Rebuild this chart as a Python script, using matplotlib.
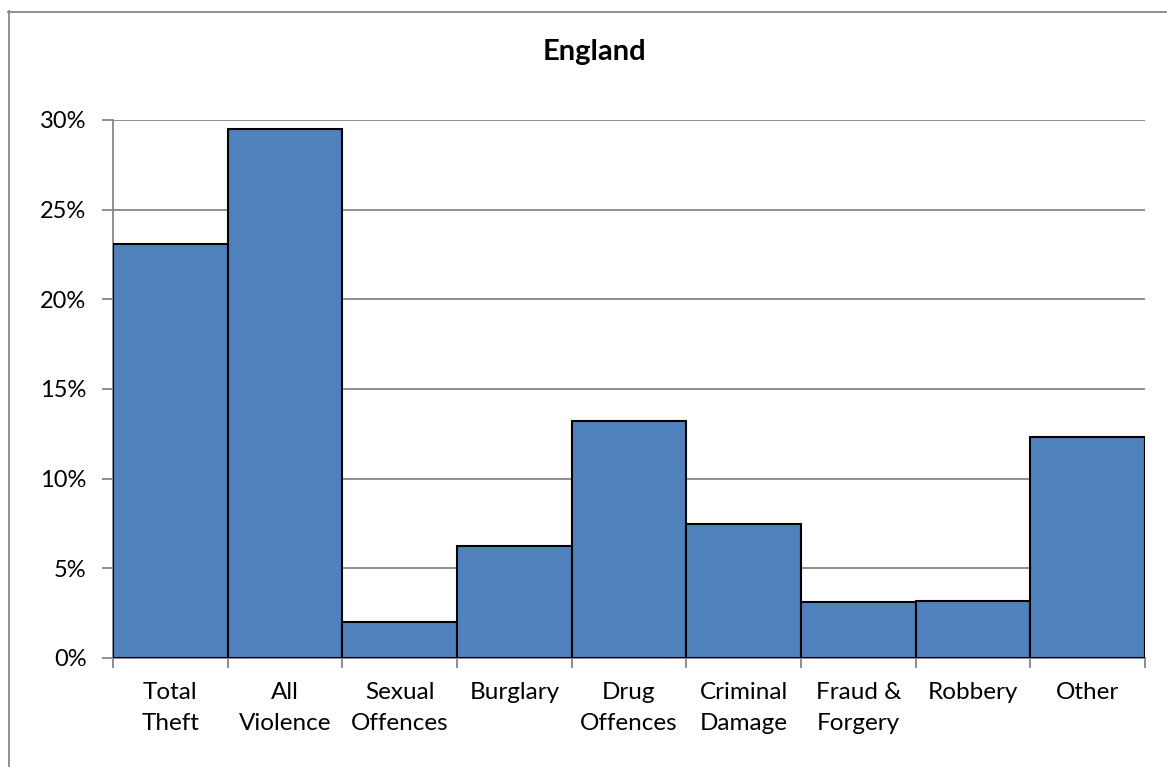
import numpy as np
import matplotlib.pyplot as plt
from matplotlib.lines import Line2D
from matplotlib.ticker import FuncFormatter

plt.rcParams['font.family'] = ['Lato', 'DejaVu Sans']

categories = ['Total\nTheft', 'All\nViolence', 'Sexual\nOffences', 'Burglary',
              'Drug\nOffences', 'Criminal\nDamage', 'Fraud &\nForgery', 'Robbery', 'Other']
shares = np.array([23.1, 29.5, 2.0, 6.25, 13.2, 7.5, 3.15, 3.2, 12.35]) / 100
yticks = np.arange(0, 0.31, 0.05)

W, H = 1167, 767
fig = plt.figure(figsize=(W / 100, H / 100), dpi=100)
ax = fig.add_axes([113 / W, 1 - 658 / H, (1145 - 113) / W, (658 - 120) / H])

grey = '#868686'
index = np.arange(len(categories))
ax.bar(index, shares, width=1.0, align='edge', color='#4F81BD',
       edgecolor='black', linewidth=1.5, zorder=3)

ax.set_xlim(0, len(categories))
ax.set_ylim(0, 0.30)
ax.set_yticks(yticks)
ax.yaxis.set_major_formatter(FuncFormatter(lambda v, p: f'{v * 100:.0f}%'))
ax.grid(axis='y', color=grey, linewidth=1.3, zorder=0)

# boundary ticks between categories, labels centred on each bar
ax.set_xticks(np.arange(len(categories) + 1))
ax.set_xticklabels([])
ax.set_xticks(index + 0.5, minor=True)
ax.set_xticklabels(categories, minor=True, fontsize=17.5, linespacing=1.62, va='top')
ax.tick_params(axis='x', which='minor', length=0, pad=17)
ax.tick_params(axis='x', which='major', length=7, color=grey, width=1.3, direction='out')
ax.tick_params(axis='y', length=8, color=grey, width=1.3, labelsize=17, pad=11)

for s in ['top', 'right']:
    ax.spines[s].set_visible(False)
for s in ['left', 'bottom']:
    ax.spines[s].set_color(grey)
    ax.spines[s].set_linewidth(1.3)

fig.text(594 / W, 1 - 52 / H, 'England', ha='center', va='center',
         fontsize=21, fontweight='bold')

# chart frame
fig.add_artist(Line2D([8.5 / W, 8.5 / W], [0, 1 - 11 / H], color=grey, linewidth=1.3))
fig.add_artist(Line2D([8 / W, 1], [1 - 11.5 / H, 1 - 11.5 / H], color=grey, linewidth=1.3))

fig.savefig('out.png', dpi=100)
